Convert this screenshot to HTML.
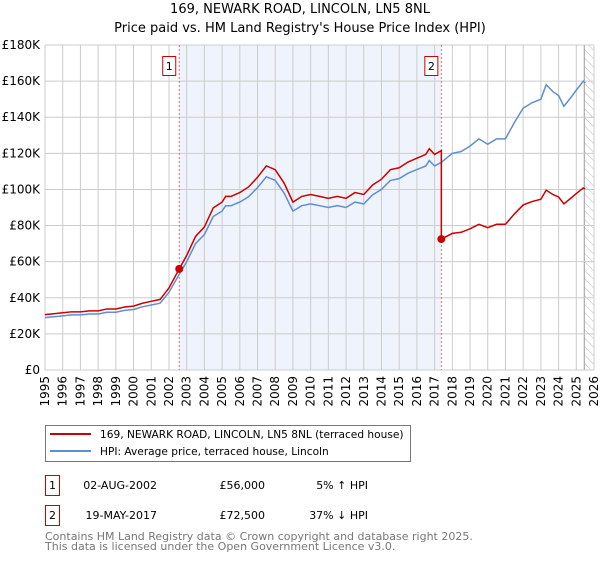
<!DOCTYPE html>
<html><head><meta charset="utf-8"><style>
body{margin:0;background:#fff;font-family:"Liberation Sans","DejaVu Sans",sans-serif}
svg text{font-family:"DejaVu Sans","Liberation Sans",sans-serif}
</style></head><body>
<svg id="c" width="600" height="560" viewBox="0 0 600 560" xmlns="http://www.w3.org/2000/svg">
<defs><pattern id="hatch" width="6" height="6" patternUnits="userSpaceOnUse" patternTransform="rotate(-45)"><line x1="0" y1="0" x2="0" y2="6" stroke="#bbb" stroke-width="1"/></pattern></defs>
<text x="300" y="13" text-anchor="middle" font-size="13">169, NEWARK ROAD, LINCOLN, LN5 8NL</text>
<text x="300" y="32" text-anchor="middle" font-size="13">Price paid vs. HM Land Registry's House Price Index (HPI)</text>
<g id="plot"></g>
<g>
<rect x="45.5" y="425.5" width="365" height="36" fill="#fff" stroke="#777"/>
<line x1="50" y1="434" x2="91" y2="434" stroke="#cc0000" stroke-width="2"/>
<text x="100" y="438" font-size="10.6">169, NEWARK ROAD, LINCOLN, LN5 8NL (terraced house)</text>
<line x1="50" y1="451" x2="91" y2="451" stroke="#5f8fd0" stroke-width="2"/>
<text x="100" y="455" font-size="10.6">HPI: Average price, terraced house, Lincoln</text>
</g>
<g font-size="11">
<rect x="45.5" y="475.5" width="14" height="20" fill="#fff" stroke="#cc0000"/>
<text x="52.5" y="489" text-anchor="middle">1</text>
<text x="157" y="489" text-anchor="end">02-AUG-2002</text>
<text x="265" y="489" text-anchor="end">£56,000</text>
<text x="368" y="489" text-anchor="end">5% ↑ HPI</text>
<rect x="45.5" y="505.5" width="14" height="20" fill="#fff" stroke="#cc0000"/>
<text x="52.5" y="519" text-anchor="middle">2</text>
<text x="157" y="519" text-anchor="end">19-MAY-2017</text>
<text x="265" y="519" text-anchor="end">£72,500</text>
<text x="368" y="519" text-anchor="end">37% ↓ HPI</text>
</g>
<text x="45" y="540" font-size="11" fill="#777">Contains HM Land Registry data © Crown copyright and database right 2025.</text>
<text x="45" y="550" font-size="11" fill="#777">This data is licensed under the Open Government Licence v3.0.</text>
</svg>
<script>
const hpiYears=[1995,1995.5,1996,1996.5,1997,1997.5,1998,1998.5,1999,1999.5,2000,2000.5,2001,2001.5,2002,2002.58,2003,2003.5,2004,2004.5,2005,2005.2,2005.5,2006,2006.5,2007,2007.5,2008,2008.5,2009,2009.5,2010,2010.5,2011,2011.5,2012,2012.5,2013,2013.5,2014,2014.5,2015,2015.5,2016,2016.5,2016.7,2017,2017.38,2018,2018.5,2019,2019.5,2020,2020.5,2021,2021.5,2022,2022.5,2023,2023.3,2023.7,2024,2024.3,2024.7,2025,2025.4,2025.5];
const hpiValues=[29,29.5,30,30.5,30.5,31,31,32,32,33,33.5,35,36,37,43,53,60,70,75,85,88,91,91,93,96,101,107,105,98,88,91,92,91,90,91,90,93,92,97,100,105,106,109,111,113,116,113,115,120,121,124,128,125,128,128,137,145,148,150,158,154,152,146,151,155,160,159];
const saleYears=[2002.58,2017.38];
const salePrices=[56,72.5];
const yTicks=[0,20,40,60,80,100,120,140,160,180];
const xTicks=[];for(let y=1995;y<=2026;y++)xTicks.push(y);
const X0=45,X1=594,Y0=370,Y1=45;
const sx=y=>X0+(y-1995)/31*(X1-X0);
const sy=v=>Y0-v/180*(Y0-Y1);
const NS="http://www.w3.org/2000/svg";
const g=document.getElementById('plot');
function mk(t,a){const e=document.createElementNS(NS,t);for(const k in a)e.setAttribute(k,a[k]);g.appendChild(e);return e;}
let e=mk('rect',{x:sx(saleYears[0]),y:Y1,width:sx(saleYears[1])-sx(saleYears[0]),height:Y0-Y1,fill:'#eef3fc'});


e=mk('rect',{x:sx(2025.45),y:Y1,width:X1-sx(2025.45),height:Y0-Y1,fill:'url(#hatch)'});


mk('line',{x1:sx(2025.45),y1:Y1,x2:sx(2025.45),y2:Y0,stroke:'#999','stroke-width':1});
xTicks.forEach(y=>{
 const l=mk('line',{x1:sx(y),y1:Y1,x2:sx(y),y2:Y0,stroke:'#ccc','stroke-width':1});
 
 
 const t=mk('text',{x:0,y:0,'font-size':12,'text-anchor':'end',transform:`translate(${sx(y)+4},${Y0+6}) rotate(-90)`});
 t.textContent=y;
 
 
});
yTicks.forEach(v=>{
 const l=mk('line',{x1:X0,y1:sy(v),x2:X1,y2:sy(v),stroke:'#ccc','stroke-width':1});
 
 
 const t=mk('text',{x:X0-5,y:sy(v)+4,'font-size':12,'text-anchor':'end'});
 t.textContent=v===0?'£0':'£'+v+'K';
 
 
});
saleYears.forEach((y,i)=>{
 const l=mk('line',{x1:sx(y),y1:Y1,x2:sx(y),y2:Y0,stroke:'#e05050','stroke-width':0.8,'stroke-dasharray':'2,2'});
 
 
 const r=mk('rect',{x:sx(y)-16.5,y:56.5,width:13,height:19,fill:'#fff',stroke:'#cc0000'});
 
 
 const t=mk('text',{x:sx(y)-10,y:70,'font-size':11,'text-anchor':'middle'});
 t.textContent=i+1;
 
 
});
function interp(y){for(let i=1;i<hpiYears.length;i++)if(y<=hpiYears[i]){const f=(y-hpiYears[i-1])/(hpiYears[i]-hpiYears[i-1]);return hpiValues[i-1]+f*(hpiValues[i]-hpiValues[i-1]);}return hpiValues[hpiValues.length-1];}
const r1=salePrices[0]/interp(saleYears[0]),r2=salePrices[1]/interp(saleYears[1]);
let red=[];
hpiYears.forEach((y,i)=>{if(y<=saleYears[1])red.push([y,hpiValues[i]*r1]);});
red.push([saleYears[1],interp(saleYears[1])*r1]);
red.push([saleYears[1],salePrices[1]]);
hpiYears.forEach((y,i)=>{if(y>saleYears[1])red.push([y,hpiValues[i]*r2]);});
e=mk('polyline',{points:hpiYears.map((y,i)=>sx(y)+','+sy(hpiValues[i])).join(' '),fill:'none',stroke:'#5f8fd0','stroke-width':1.5});


e=mk('polyline',{points:red.map(p=>sx(p[0])+','+sy(p[1])).join(' '),fill:'none',stroke:'#cc0000','stroke-width':1.5});


saleYears.forEach((y,i)=>{
 const c=mk('circle',{cx:sx(y),cy:sy(salePrices[i]),r:4,fill:'#cc0000'});
 
 
});
</script>
</body></html>
